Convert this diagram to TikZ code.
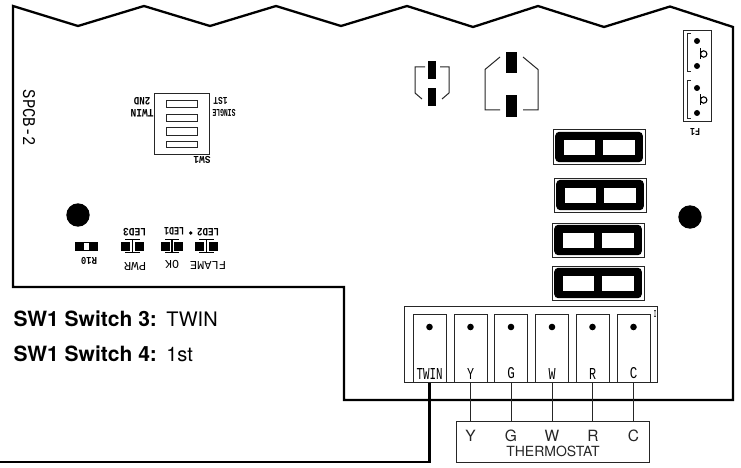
\documentclass[tikz,border=0pt]{standalone}
\usepackage{fontspec}
\usepackage{graphicx}
\setmainfont{TeX Gyre Heros}
\newfontfamily\cad{Liberation Mono}
\tikzset{
  x=1pt,y=-1pt,
  board/.style={line width=2.3pt,line join=miter},
  heavy/.style={line width=2.3pt},
  thin line/.style={line width=1pt,draw=black!85},
  thin box/.style={draw=black!85,line width=1pt,rectangle,inner sep=0pt},
  term/.style={thin box,minimum width=33pt,minimum height=68pt},
  relayface/.style={fill=black,rounded corners=4pt},
  pin/.style={fill=black},
  cadlabel/.style={inner sep=0pt,outer sep=0pt},
  thlabel/.style={inner sep=0pt,font=\fontsize{15.5}{15.5}\selectfont,text=black!85},
  caption/.style={inner sep=0pt,anchor=base west,font=\fontsize{20}{22}\selectfont},
}
\newcommand{\capbold}[1]{{\fontsize{21}{22}\selectfont\bfseries #1}}
% name, x, y, width, height, rotation, text
\newcommand{\cadtext}[7]{\node[cadlabel,rotate=#6] (#1) at (#2,#3) {\resizebox{#4pt}{#5pt}{\cad #7}};}
% small label, heavier face
\newcommand{\cadsmall}[7]{\node[cadlabel,rotate=#6] (#1) at (#2,#3) {\resizebox{#4pt}{#5pt}{\cad\bfseries #7}};}
% relay: outer left, top, right, bottom
\newcommand{\relay}[4]{%
  \draw[thin line] (#1,#2) rectangle (#3,#4);
  \fill[relayface] ({#1+2.2},{#2+1.8}) rectangle ({#3-2.2},{#4-1.8});
  \fill[white] ({#1+11},{#2+10}) rectangle ({#1+42},{#2+24.5});
  \fill[white] ({#1+50},{#2+10}) rectangle ({#1+81.5},{#2+24.5});
}
% led symbol: x left, x right
\newcommand{\ledsym}[2]{%
  \fill ({#1},241.5) rectangle ({#1+9},250.5);
  \fill ({#2-8},241.5) rectangle ({#2},250.5);
  \draw[line width=1.1pt] ({#1+4},239.3) -- ({#2-4},239.3) ({#1+4},252.5) -- ({#2-4},252.5);
  \draw[line width=1.1pt] ({(#1+#2)/2},239.3) -- ({(#1+#2)/2},252.5) ({(#1+#2)/2+3},242) -- ({(#1+#2)/2+3},250.5);
}
\begin{document}
\begin{tikzpicture}
\useasboundingbox[fill=white] (0,0) rectangle (741,468);

% board outline
\draw[board] (13,287) -- (13,6) -- (78,26) -- (144,6) -- (210,26) -- (276,6) -- (341,26)
  -- (407,6) -- (473,27) -- (538,6) -- (604,27) -- (670,6.5) -- (733,27) -- (733,400)
  -- (344,400) -- (344,287) -- cycle;

% SPCB-2
\cadtext{spcb}{29}{118}{56}{12}{-90}{SPCB-2}

% SW1
\draw[thin line] (154.5,154) rectangle (209,94);
\foreach \a/\b in {101/108,115/121.5,128/135,141/147.5}
  \draw[thin line] (166,\a) rectangle (197,\b);
\cadsmall{twinl}{142}{113}{23}{7.5}{180}{TWIN}
\cadsmall{ndl}{142}{101}{16.5}{7.5}{180}{2ND}
\cadsmall{singl}{224}{112.5}{23}{7}{180}{SINGLE}
\cadsmall{stl}{220.5}{101}{14}{7}{180}{1ST}
\cadsmall{swl}{202}{160}{17}{7}{180}{SW1}

% mounting holes
\fill (78,215) circle (11.7);
\fill (690,217) circle (11.7);

% R10 and LEDs
\fill (75,242) rectangle (84,251);
\fill (89,242) rectangle (98,251);
\draw[line width=.9pt] (84,242.5) -- (89,242.5) (84,250.5) -- (89,250.5);
\cadsmall{rten}{89}{261}{16}{7}{180}{R10}
\ledsym{121}{144}
\ledsym{161}{183}
\ledsym{195}{218}
\cadsmall{led3}{134.5}{232}{23}{7.5}{180}{LED3}
\cadsmall{led1}{174}{231}{20}{7.5}{180}{LED1}
\cadsmall{led2}{208}{232}{22}{7.5}{180}{LED2}
\fill (190.7,233) circle (1.9);
\cadtext{pwr}{135}{266}{22}{8}{180}{PWR}
\cadtext{okl}{172}{264.5}{14}{8}{180}{OK}
\cadtext{flame}{208}{265.5}{36}{8}{180}{FLAME}

% small connector
\fill[pin] (428,61) rectangle (436,79);
\fill[pin] (428,88) rectangle (436,106);
\draw[thin line] (425,67) -- (415,67) -- (415,93) -- (422,99);
\draw[thin line] (440,67) -- (449,67) -- (449,93) -- (442,99);

% large connector
\fill[pin] (506,52) rectangle (517,73);
\fill[pin] (506,95) rectangle (517,117);
\draw[thin line] (500,57) -- (485,69.5) -- (485,110) -- (500,110);
\draw[thin line] (523,57) -- (538,69.5) -- (538,110) -- (523,110);

% F1
\draw[thin line] (683,31) rectangle (711,122);
\foreach \t/\b/\m in {34/72/54,81/119/100}{
  \draw[thin line] (691,\t) -- (687.5,\t) -- (687.5,\b) -- (691,\b);
  \fill (697,{\t+7}) circle (3);
  \fill (697,{\b-6}) circle (3);
  \draw[line width=1.1pt] (700.5,{\m-5.5}) -- (700.5,{\m+5.5});
  \draw[line width=1.1pt] (703.7,{\m}) circle (3.2);
}
\cadsmall{fone}{695}{132}{10}{7}{180}{F1}

% relays
\relay{553}{130}{645}{164}
\relay{554}{178}{646}{212}
\relay{552}{223}{644}{257}
\relay{552}{266}{644}{300}

% terminal strip
\node[thin box,minimum width=253pt,minimum height=76pt] (strip) at (531.2,344) {};
\cadsmall{stripmark}{655}{314}{2}{7}{0}{I}
\foreach \n/\x/\w in {TWIN/429.5/26,Y/470.5/7,G/511/7.5,W/552/7,R/592.5/7,C/633.5/7.5}{
  \node[term] (t\n) at (\x,348) {};
  \fill (\x,327) circle (3.3);
  \cadtext{l\n}{\x}{373.5}{\w}{11}{0}{\n}
}

% thermostat
\node[thin box,minimum width=193pt,minimum height=41pt] (therm) at (552.5,441.5) {};
\foreach \n/\x in {Y/470.5,G/511,W/552,R/593,C/633.5}
  \node[thlabel] (th\n) at (\x,436) {\n};
\node[thlabel,font=\fontsize{14}{14}\selectfont] (thname) at (553,451) {THERMOSTAT};

% wires
\foreach \n in {Y,G,W,R,C}
  \draw[thin line] (t\n.south) -- (t\n.south |- therm.north);
\coordinate (twinend) at (0,462);
\draw[heavy] (tTWIN.south) |- (twinend);

% captions
\node[caption] (c1) at (13.5,326.5) {\capbold{SW1 Switch 3:}\hspace{2pt} TWIN};
\node[caption] (c2) at (13.5,361) {\capbold{SW1 Switch 4:}\hspace{2pt} 1st};
\end{tikzpicture}
\end{document}
